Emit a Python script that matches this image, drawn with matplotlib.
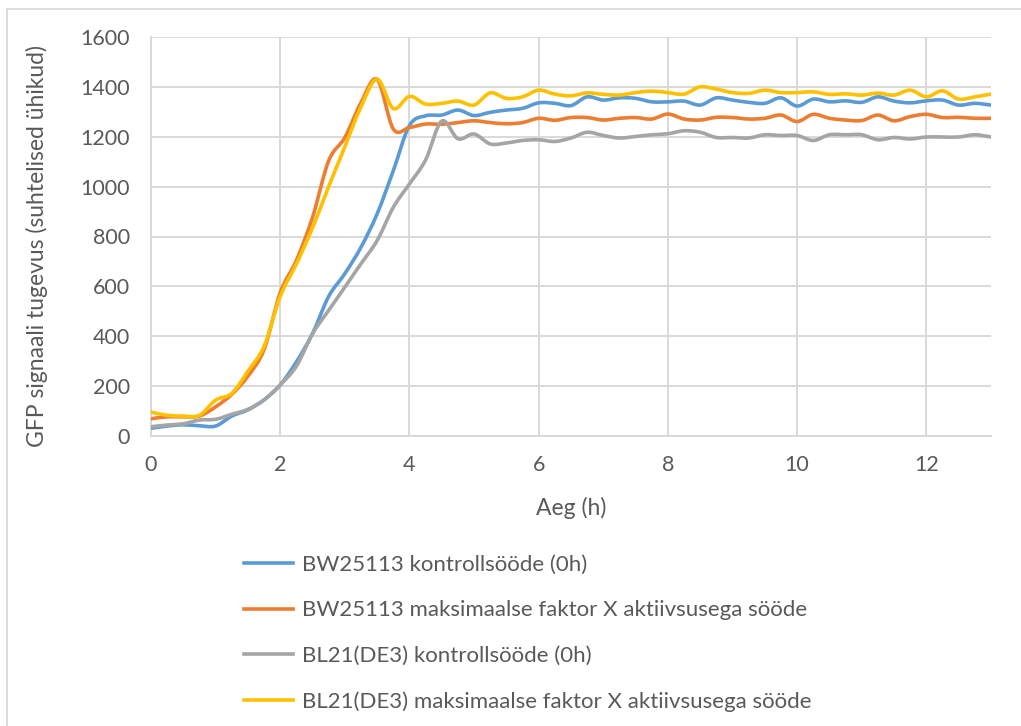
import numpy as np
import matplotlib
matplotlib.use("Agg")
import matplotlib.pyplot as plt
from matplotlib.path import Path
from matplotlib.patches import PathPatch, Rectangle
from matplotlib.lines import Line2D

plt.rcParams['font.family'] = ['Lato', 'DejaVu Sans']

# time points every 15 min
hours = np.arange(53) * 0.25

bw_control = [31, 40, 45, 41, 40, 80, 105, 145, 205, 297, 411, 560, 651, 757, 891, 1064, 1245, 1284,
              1287, 1307, 1285, 1298, 1307, 1314, 1336, 1334, 1325, 1360, 1347, 1356, 1354, 1340,
              1340, 1343, 1327, 1356, 1347, 1338, 1334, 1356, 1323, 1351, 1340, 1344, 1338, 1360,
              1343, 1336, 1344, 1347, 1327, 1334, 1327]
bw_max = [69, 77, 77, 80, 117, 167, 240, 347, 575, 704, 877, 1104, 1197, 1337, 1430, 1231, 1237, 1251,
          1250, 1257, 1264, 1257, 1252, 1257, 1274, 1266, 1277, 1277, 1267, 1274, 1277, 1271,
          1291, 1271, 1267, 1278, 1277, 1271, 1274, 1287, 1261, 1290, 1274, 1267, 1265, 1287,
          1264, 1281, 1290, 1277, 1278, 1274, 1274]
bl_control = [37, 44, 49, 64, 67, 87, 107, 145, 205, 280, 410, 504, 597, 691, 784, 917, 1011, 1107,
              1263, 1192, 1211, 1171, 1175, 1185, 1188, 1181, 1195, 1218, 1205, 1195, 1201, 1208,
              1212, 1224, 1218, 1197, 1197, 1195, 1208, 1205, 1205, 1185, 1208, 1208, 1208, 1188,
              1197, 1191, 1199, 1199, 1199, 1208, 1199]
bl_max = [96, 83, 80, 83, 144, 171, 260, 360, 560, 690, 835, 1000, 1160, 1320, 1431, 1313, 1362, 1331,
          1334, 1343, 1327, 1376, 1354, 1360, 1387, 1371, 1364, 1376, 1370, 1367, 1377, 1383,
          1377, 1371, 1400, 1391, 1377, 1374, 1387, 1377, 1377, 1380, 1370, 1372, 1367, 1375,
          1367, 1387, 1360, 1384, 1351, 1360, 1371]

labels = ["BW25113 kontrollsööde (0h)",
          "BW25113 maksimaalse faktor X aktiivsusega sööde",
          "BL21(DE3) kontrollsööde (0h)",
          "BL21(DE3) maksimaalse faktor X aktiivsusega sööde"]
colors = ["#5b9bd5", "#ed7d31", "#a5a5a5", "#ffc000"]
series = [bw_control, bw_max, bl_control, bl_max]

txt = "#595959"
grid = "#d9d9d9"


def smooth_path(x, y):
    # Excel-like smoothed line: cubic Bezier through the points
    p = np.column_stack([x, y]).astype(float)
    n = len(p)
    verts = [p[0]]
    codes = [Path.MOVETO]
    for i in range(n - 1):
        p0 = p[i - 1] if i > 0 else p[i]
        p3 = p[i + 2] if i + 2 < n else p[i + 1]
        c1 = p[i] + (p[i + 1] - p0) / 6
        c2 = p[i + 1] - (p3 - p[i]) / 6
        verts += [c1, c2, p[i + 1]]
        codes += [Path.CURVE4] * 3
    return Path(verts, codes)


fig = plt.figure(figsize=(10.21, 7.26), dpi=100)
ax = fig.add_axes([151 / 1021, 1 - 436 / 726, 840 / 1021, 399 / 726])

for ys, c in zip(series, colors):
    ax.add_patch(PathPatch(smooth_path(hours, ys), fill=False, edgecolor=c, lw=2.6,
                           capstyle='round', joinstyle='round', zorder=3))

ax.set_xlim(0, 13)
ax.set_ylim(0, 1600)
ax.set_xticks(range(0, 13, 2))
ax.set_yticks(range(0, 1601, 200))
ax.grid(True, color=grid, lw=1.4)
ax.set_axisbelow(True)
for s in ['top', 'right']:
    ax.spines[s].set_visible(False)
for s in ['left', 'bottom']:
    ax.spines[s].set_color(grid)
    ax.spines[s].set_linewidth(1.4)
ax.tick_params(length=0, labelsize=15.5, colors=txt)
ax.tick_params(axis='y', pad=15)
ax.tick_params(axis='x', pad=14)
ax.set_xlabel("Aeg (h)", fontsize=16.5, color=txt)
ax.set_ylabel("GFP signaali tugevus (suhtelised ühikud)", fontsize=16.5, color=txt)
ax.xaxis.set_label_coords(0.5, -0.152)
ax.yaxis.set_label_coords(-0.123, 0.476)

handles = [Line2D([], [], color=c, lw=2.6) for c in colors]
fig.legend(handles, labels, loc='upper left', bbox_to_anchor=(226 / 1021, 1 - 537 / 726),
           frameon=False, fontsize=16, labelcolor=txt, handlelength=2.2, handletextpad=0.4,
           labelspacing=1.15, borderpad=0.3)

# chart frame (left and top edges visible)
fig.patches.append(Rectangle((7 / 1021, -0.1), 1.2, (726 - 9) / 726 + 0.1, transform=fig.transFigure,
                             fill=False, edgecolor=grid, lw=1.3))

fig.savefig("out.png", dpi=100)
